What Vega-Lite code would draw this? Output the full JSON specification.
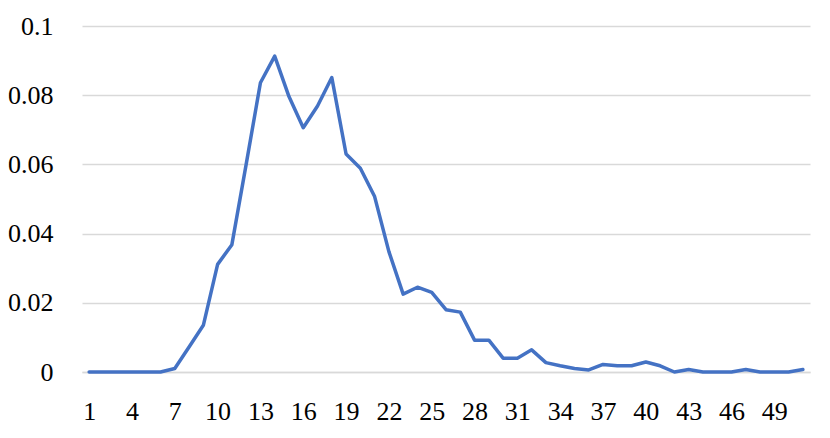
{
  "$schema": "https://vega.github.io/schema/vega-lite/v6.json",
  "autosize": "none",
  "width": 728,
  "height": 346,
  "padding": {"left": 82, "top": 26, "right": 20, "bottom": 66},
  "background": "white",
  "config": {
    "view": {"stroke": null},
    "font": "Liberation Serif",
    "axis": {"labelFont": "Liberation Serif", "labelFontSize": 26, "labelColor": "#000000", "titleFont": "Liberation Serif"}
  },
  "data": {
    "values": [
      {"x": 1, "y": 0}, {"x": 2, "y": 0}, {"x": 3, "y": 0}, {"x": 4, "y": 0}, {"x": 5, "y": 0},
      {"x": 6, "y": 0}, {"x": 7, "y": 0.001}, {"x": 8, "y": 0.0072}, {"x": 9, "y": 0.0135}, {"x": 10, "y": 0.0311},
      {"x": 11, "y": 0.0368}, {"x": 12, "y": 0.06}, {"x": 13, "y": 0.0836}, {"x": 14, "y": 0.0913}, {"x": 15, "y": 0.0796},
      {"x": 16, "y": 0.0706}, {"x": 17, "y": 0.0769}, {"x": 18, "y": 0.0851}, {"x": 19, "y": 0.063}, {"x": 20, "y": 0.0589},
      {"x": 21, "y": 0.0507}, {"x": 22, "y": 0.0348}, {"x": 23, "y": 0.0225}, {"x": 24, "y": 0.0245}, {"x": 25, "y": 0.023},
      {"x": 26, "y": 0.018}, {"x": 27, "y": 0.0173}, {"x": 28, "y": 0.0092}, {"x": 29, "y": 0.0092}, {"x": 30, "y": 0.004},
      {"x": 31, "y": 0.004}, {"x": 32, "y": 0.0064}, {"x": 33, "y": 0.0027}, {"x": 34, "y": 0.0018}, {"x": 35, "y": 0.001},
      {"x": 36, "y": 0.0006}, {"x": 37, "y": 0.0022}, {"x": 38, "y": 0.0018}, {"x": 39, "y": 0.0018}, {"x": 40, "y": 0.0029},
      {"x": 41, "y": 0.0018}, {"x": 42, "y": 0}, {"x": 43, "y": 0.0007}, {"x": 44, "y": 0}, {"x": 45, "y": 0},
      {"x": 46, "y": 0}, {"x": 47, "y": 0.0007}, {"x": 48, "y": 0}, {"x": 49, "y": 0}, {"x": 50, "y": 0},
      {"x": 51, "y": 0.0007}
    ]
  },
  "layer": [
    {
      "mark": {"type": "line", "color": "#4472C4", "strokeWidth": 3.5, "strokeJoin": "round", "strokeCap": "round"},
      "encoding": {
        "x": {
          "field": "x", "type": "quantitative",
          "scale": {"domain": [0.5, 51.5], "nice": false, "zero": false},
          "axis": {"title": null, "values": [1, 4, 7, 10, 13, 16, 19, 22, 25, 28, 31, 34, 37, 40, 43, 46, 49], "grid": false, "ticks": false, "domain": true, "domainColor": "#d9d9d9", "domainWidth": 1.5, "labelPadding": 26, "labelFlush": false}
        },
        "y": {
          "field": "y", "type": "quantitative",
          "scale": {"domain": [0, 0.1], "nice": false},
          "axis": {"title": null, "values": [0, 0.02, 0.04, 0.06, 0.08, 0.1], "format": "~g", "grid": true, "gridColor": "#d9d9d9", "gridWidth": 1.5, "ticks": false, "domain": false, "labelPadding": 29}
        }
      }
    }
  ]
}
